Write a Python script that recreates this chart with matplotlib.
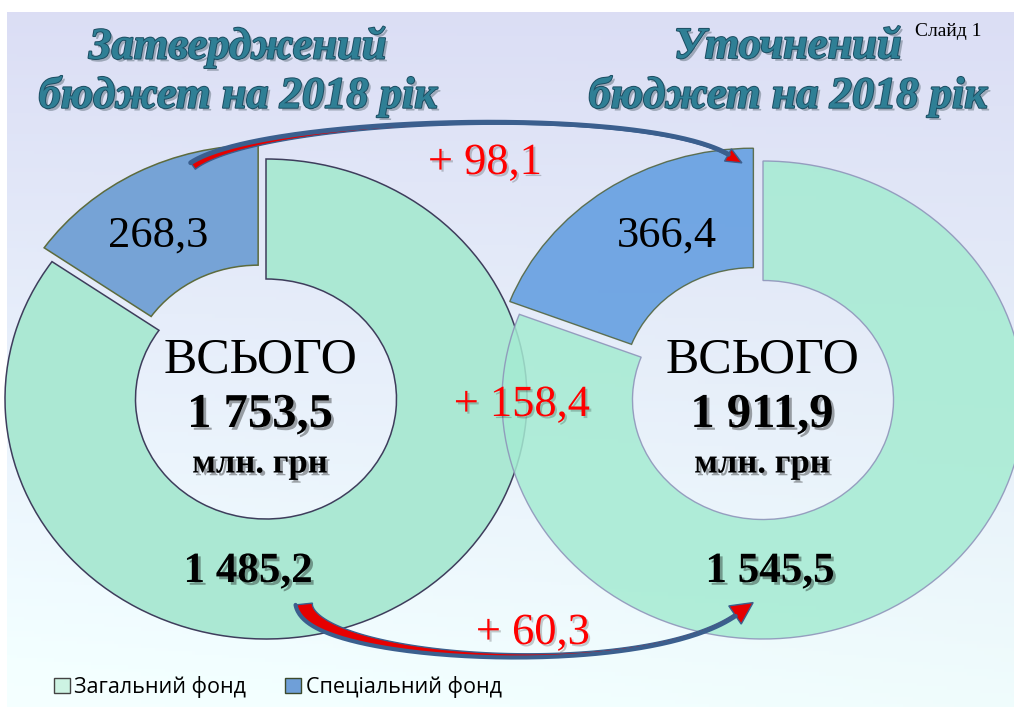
import numpy as np
import matplotlib
matplotlib.use('Agg')
import matplotlib.pyplot as plt
import matplotlib.patheffects as pe
from matplotlib.patches import Polygon, Patch

# budget 2018, mln UAH: [general fund, special fund]
funds = ['Загальний фонд', 'Спеціальний фонд']
approved = [1485.2, 268.3]
revised = [1545.5, 366.4]
titles = ['Затверджений', 'Уточнений']
subtitle = 'бюджет на 2018 рік'

total_appr = sum(approved)
total_rev = sum(revised)
diff_gen = revised[0] - approved[0]
diff_spec = revised[1] - approved[1]
diff_total = total_rev - total_appr


def ua(v):
    return '{:,.1f}'.format(v).replace(',', ' ').replace('.', ',')


W, H = 1014, 707
fig = plt.figure(figsize=(W / 100, H / 100), dpi=100)
fig.patch.set_facecolor('white')

# slide background
bg = fig.add_axes([7 / W, 0, (W - 7) / W, (H - 12) / H])
t = np.linspace(0, 1, 200)[:, None, None]
s = np.linspace(0, 1, 300)[None, :, None]
top = np.array([0.86, 0.87, 0.96])
bot = np.array([0.94, 0.99, 0.99])
img = top * (1 - t) + bot * t
img = np.clip(img * np.ones((1, 300, 1)) + 0.02 * (1 - s) * t, 0, 1)
bg.imshow(img, aspect='auto', extent=[0, 1, 0, 1])
bg.axis('off')


def px_axes(cx, cy, rx, ry, lim=1.25):
    w = 2 * lim * rx
    h = 2 * lim * ry
    return fig.add_axes([(cx - w / 2) / W, 1 - (cy + h / 2) / H, w / W, h / H])


def donut(ax, vals, colors, edges, alpha, lw):
    # special fund first so it starts at 12 o'clock and goes counter-clockwise
    wedges, _ = ax.pie([vals[1], vals[0]], startangle=90, counterclock=True,
                       explode=[0.065, 0], colors=[colors[1], colors[0]],
                       wedgeprops=dict(width=0.5, linewidth=lw, alpha=alpha))
    for w, ec in zip(wedges, [edges[1], edges[0]]):
        w.set_edgecolor(ec)
    ax.set_aspect('auto')
    ax.set_xlim(-1.25, 1.25)
    ax.set_ylim(-1.25, 1.25)
    ax.axis('off')


ax1 = px_axes(266, 399, 261, 240)
donut(ax1, approved, ['#abe8d3', '#76a3d6'], ['#3e3d5c', '#5d6b3c'], 1.0, 1.1)
ax2 = px_axes(763, 400, 261, 239)
donut(ax2, revised, ['#a5ebd2', '#5e9be0'], ['#8c90b8', '#4f6036'], 0.85, 1.0)

# overlay in pixel coords
ax = fig.add_axes([0, 0, 1, 1])
ax.set_xlim(0, W)
ax.set_ylim(H, 0)
ax.axis('off')
ax.patch.set_alpha(0)


def curved_arrow(p, w0, w1, head_len, head_w, outer_left, blue_lw):
    p = np.array(p, float)
    tt = np.linspace(0, 1, 150)[:, None]
    c = (1 - tt) ** 3 * p[0] + 3 * (1 - tt) ** 2 * tt * p[1] + 3 * (1 - tt) * tt ** 2 * p[2] + tt ** 3 * p[3]
    d = 3 * (1 - tt) ** 2 * (p[1] - p[0]) + 6 * (1 - tt) * tt * (p[2] - p[1]) + 3 * tt ** 2 * (p[3] - p[2])
    d = d / np.linalg.norm(d, axis=1, keepdims=True)
    n = np.column_stack([-d[:, 1], d[:, 0]])
    w = (w1 + (w0 - w1) * (1 - tt) ** 3) / 2
    left = c + n * w
    right = c - n * w
    tip = c[-1] + d[-1] * head_len
    hl = c[-1] + n[-1] * head_w / 2
    hr = c[-1] - n[-1] * head_w / 2
    poly = np.vstack([left, hl, tip, hr, right[::-1]])
    ax.add_patch(Polygon(poly, closed=True, fc='#e60000', ec='#3b5f8e', lw=1.0, zorder=5))
    outer = left if outer_left else right
    ax.plot(outer[:, 0], outer[:, 1], color='#3b5f8e', lw=blue_lw, solid_capstyle='round', zorder=6)


curved_arrow([(193, 166), (260, 118), (640, 105), (728, 155)], 8, 1.5, 16, 14, False, 3.5)
curved_arrow([(304, 604), (310, 660), (640, 680), (735, 615)], 17, 2.5, 22, 22, True, 3.0)

shadow = [pe.SimplePatchShadow(offset=(2, -2), shadow_rgbFace='k', alpha=0.35), pe.Normal()]
soft = [pe.SimplePatchShadow(offset=(1.5, -1.5), shadow_rgbFace='k', alpha=0.2), pe.Normal()]
serif = 'Liberation Serif'

# titles
title_fx = [pe.SimplePatchShadow(offset=(2, -2), alpha=0.3),
            pe.Stroke(linewidth=1.4, foreground='#1c4d62'), pe.Normal()]
for x, ttl in zip([238, 788], titles):
    for y, line in [(47, ttl), (96, subtitle)]:
        ax.text(x, y, line, ha='center', va='center', family=serif, fontsize=32,
                weight='bold', style='italic', color='#2f7f95',
                path_effects=title_fx, zorder=7)
ax.text(948, 31, 'Слайд 1', ha='center', va='center', family=serif, fontsize=14, color='black', zorder=8)

# slice labels
ax.text(158, 236, ua(approved[1]), ha='center', va='center', family=serif, fontsize=32, zorder=7)
ax.text(667, 236, ua(revised[1]), ha='center', va='center', family=serif, fontsize=32, zorder=7)
ax.text(248, 572, ua(approved[0]), ha='center', va='center', family=serif, fontsize=31,
        weight='bold', path_effects=shadow, zorder=7)
ax.text(770, 572, ua(revised[0]), ha='center', va='center', family=serif, fontsize=31,
        weight='bold', path_effects=shadow, zorder=7)

# centre totals
for x, tot in zip([260, 762], [total_appr, total_rev]):
    ax.text(x, 360, 'ВСЬОГО', ha='center', va='center', family=serif, fontsize=36, zorder=7)
    ax.text(x, 415, ua(tot), ha='center', va='center', family=serif, fontsize=35,
            weight='bold', path_effects=shadow, zorder=7)
    ax.text(x, 464, 'млн. грн', ha='center', va='center', family=serif, fontsize=25,
            weight='bold', path_effects=shadow, zorder=7)

# changes
for (x, y), v in zip([(485, 163), (522, 405), (533, 633)], [diff_spec, diff_total, diff_gen]):
    ax.text(x, y, '+ ' + ua(v), ha='center', va='center', family=serif, fontsize=32,
            color='#ff0000', path_effects=soft, zorder=8)

handles = [Patch(facecolor='#cdf3e3', edgecolor='#444444'),
           Patch(facecolor='#6f9fd8', edgecolor='#3c4a2c')]
fig.legend(handles, funds, loc='center left', bbox_to_anchor=(54 / W, 1 - 687 / H),
           ncol=2, frameon=False, borderaxespad=0, borderpad=0,
           handlelength=0.75, handleheight=0.75, handletextpad=0.2, columnspacing=1.8,
           prop={'family': 'Open Sans', 'size': 15.5})

fig.savefig('out.png', dpi=100)
